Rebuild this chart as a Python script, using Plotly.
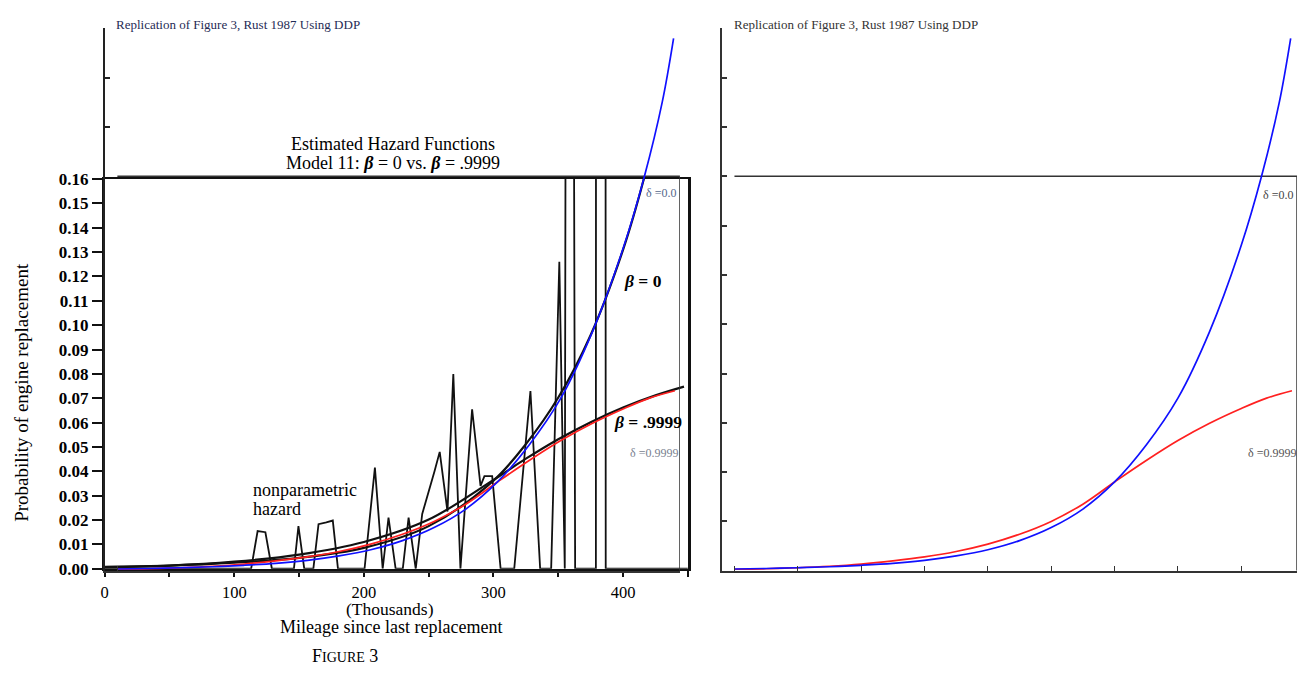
import plotly.graph_objects as go

W, H = 1301, 674

# ---------------- data: scanned Rust (1987) Figure 3 ----------------
scan_x_ticks = [0, 50, 100, 150, 200, 250, 300, 350, 400, 450]
scan_x_ticktext = ["0", "", "100", "", "200", "", "300", "", "400", ""]
scan_y_ticks = [0.00, 0.01, 0.02, 0.03, 0.04, 0.05, 0.06, 0.07, 0.08,
                0.09, 0.10, 0.11, 0.12, 0.13, 0.14, 0.15, 0.16]
scan_y_ticktext = ["0.00", "0.01", "0.02", "0.03", "0.04", "0.05", "0.06", "0.07", "0.08",
                   "0.09", "0.10", "0.11", "0.12", "0.13", "0.14", "0.15", "0.16"]

nonpar_mileage = [0, 113, 118, 124, 129, 146, 149.5, 154, 161, 165, 171, 176, 180,
                  200.5, 208.5, 214.5, 219, 224.5, 230, 234.5, 240, 245, 254.5, 258.5,
                  264.5, 269, 274.5, 283.5, 290, 293, 299, 305.5, 316, 328.5, 336,
                  344.5, 350.8, 355, 357, 360, 363, 379, 379.4, 386, 386.6, 450]
nonpar_hazard = [0, 0, 0.0155, 0.015, 0, 0, 0.0175, 0, 0, 0.0183, 0.019, 0.0198, 0,
                 0, 0.0415, 0, 0.021, 0, 0, 0.021, 0, 0.0225, 0.040, 0.048,
                 0.0235, 0.080, 0, 0.0655, 0.034, 0.038, 0.038, 0, 0, 0.073, 0,
                 0, 0.126, 0, 0.6, 0.6, 0, 0, 1.0, 1.0, 0, 0]

beta0_mileage = [0, 50, 100, 150, 200, 250, 300, 325, 350, 375, 400, 416, 425]
beta0_scan = [0.0008, 0.0013, 0.0025, 0.0045, 0.0086, 0.0175, 0.0362, 0.0512, 0.0703,
              0.096, 0.131, 0.160, 0.180]
beta9999_mileage = [0, 50, 100, 150, 200, 250, 300, 325, 350, 375, 400, 425, 447]
beta9999_scan = [0.0007, 0.0013, 0.0029, 0.0058, 0.0110, 0.0202, 0.0365, 0.0452,
                 0.0532, 0.0602, 0.0662, 0.0712, 0.0748]

# ---------------- data: DDP replication ----------------
ddp_x_max = 444
hazard_cap = 0.16
ddp_y_ticks = [0.02, 0.04, 0.06, 0.08, 0.10, 0.12, 0.14, 0.16, 0.18, 0.20, 0.22]
ddp_x_ticks = [0, 50, 100, 150, 200, 250, 300, 350, 400]

delta0_x = [0, 25, 50, 75, 100, 125, 150, 175, 200, 225, 250, 275, 300, 325, 350,
            375, 400, 416, 430, 439]
delta0_p = [0.0007, 0.0009, 0.0012, 0.0016, 0.0022, 0.0030, 0.0042, 0.0060, 0.0085,
            0.0122, 0.0175, 0.025, 0.036, 0.051, 0.070, 0.097, 0.132, 0.160, 0.190, 0.216]
delta9999_x = [0, 25, 50, 75, 100, 125, 150, 175, 200, 225, 250, 275, 300, 325, 350,
               375, 400, 420, 440]
delta9999_p = [0.0006, 0.0008, 0.0012, 0.0018, 0.0027, 0.0040, 0.0056, 0.0078, 0.0108,
               0.0148, 0.0200, 0.0270, 0.0360, 0.0447, 0.0528, 0.0598, 0.0658, 0.0700,
               0.0730]

SERIF = "Liberation Serif, Times New Roman, serif"
BLUE = "#1010ff"
RED = "#ff2020"


def px(x):
    return x / W


def py(y):
    return 1 - y / H


fig = go.Figure()

# scanned figure curves
fig.add_trace(go.Scatter(x=nonpar_mileage, y=nonpar_hazard, mode="lines",
                         line=dict(color="#111", width=1.8), xaxis="x", yaxis="y"))
fig.add_trace(go.Scatter(x=beta0_mileage, y=beta0_scan, mode="lines", line_shape="spline",
                         line=dict(color="#111", width=2.2), xaxis="x", yaxis="y"))
fig.add_trace(go.Scatter(x=beta9999_mileage, y=beta9999_scan, mode="lines", line_shape="spline",
                         line=dict(color="#111", width=2.2), xaxis="x", yaxis="y"))

# DDP overlay (left) and DDP plot (right)
for xa, ya in (("x2", "y2"), ("x3", "y3")):
    fig.add_trace(go.Scatter(x=[0, ddp_x_max, ddp_x_max], y=[hazard_cap, hazard_cap, 0],
                             mode="lines", line=dict(color="#333", width=1.5),
                             xaxis=xa, yaxis=ya))
    fig.add_trace(go.Scatter(x=delta9999_x, y=delta9999_p, mode="lines", line_shape="spline",
                             line=dict(color=RED, width=1.7), xaxis=xa, yaxis=ya))
    fig.add_trace(go.Scatter(x=delta0_x, y=delta0_p, mode="lines", line_shape="spline",
                             line=dict(color=BLUE, width=1.7), xaxis=xa, yaxis=ya))

common_hidden = dict(showgrid=False, zeroline=False)

fig.update_layout(
    width=W, height=H, margin=dict(l=0, r=0, t=0, b=0),
    paper_bgcolor="white", plot_bgcolor="rgba(0,0,0,0)", showlegend=False,
    xaxis=dict(domain=[px(101), px(686)], range=[0, 450], anchor="y", **common_hidden,
               showline=True, linecolor="#111", linewidth=2, mirror=True,
               ticks="outside", ticklen=6, tickwidth=1.5, tickcolor="#111",
               ticklabelstandoff=1,
               tickvals=scan_x_ticks, ticktext=scan_x_ticktext,
               tickfont=dict(family=SERIF, size=16.5, color="#000")),
    yaxis=dict(domain=[py(576), py(175)], range=[0, 0.16], anchor="x", **common_hidden,
               showline=True, linecolor="#111", linewidth=2.5, mirror=True,
               ticks="outside", ticklen=10, tickwidth=1.5, tickcolor="#111",
               tickvals=scan_y_ticks, ticktext=scan_y_ticktext,
               tickfont=dict(family=SERIF, size=17, color="#000", weight="bold")),
    xaxis2=dict(domain=[px(101), px(678)], range=[-10, ddp_x_max], anchor="y2", **common_hidden,
                showline=True, linecolor="#333", linewidth=1.5,
                ticks="inside", ticklen=5, tickcolor="#333", tickvals=[0],
                showticklabels=False),
    yaxis2=dict(domain=[py(578), py(20)], range=[0, 0.22], anchor="x2", **common_hidden,
                showline=True, linecolor="#222", linewidth=2,
                ticks="inside", ticklen=5, tickwidth=1.5, tickcolor="#222",
                tickvals=[0.18, 0.20, 0.22], showticklabels=False),
    xaxis3=dict(domain=[px(720), px(1297)], range=[-10, ddp_x_max], anchor="y3", **common_hidden,
                showline=True, linecolor="#333", linewidth=2,
                ticks="inside", ticklen=5, tickwidth=1.2, tickcolor="#333",
                tickvals=ddp_x_ticks, showticklabels=False),
    yaxis3=dict(domain=[py(578), py(20)], range=[0, 0.22], anchor="x3", **common_hidden,
                showline=True, linecolor="#333", linewidth=2,
                ticks="inside", ticklen=5, tickwidth=1.5, tickcolor="#333",
                tickvals=ddp_y_ticks, showticklabels=False),
)


def note(text, x, y, size=18, color="#000", xanchor="center", angle=0, family=SERIF):
    fig.add_annotation(text=text, x=px(x), y=py(y), xref="paper", yref="paper",
                       xanchor=xanchor, yanchor="middle", showarrow=False, textangle=angle,
                       borderpad=0, font=dict(family=family, size=size, color=color))


note("Replication of Figure 3, Rust 1987 Using DDP", 111, 16, size=13, color="#1f2b55", xanchor="left")
note("Replication of Figure 3, Rust 1987 Using DDP", 731, 16, size=13, color="#333", xanchor="left")

note("Estimated Hazard Functions", 390, 139)
note("Model 11: <b><i>β</i></b> = 0 vs. <b><i>β</i></b> = .9999", 390, 158)
note("nonparametric", 249, 495, xanchor="left")
note("hazard", 249, 514, xanchor="left")
note("<b><i>β</i> = 0</b>", 641, 280, size=17.5)
note("<b><i>β</i> = .9999</b>", 646, 425, size=17.5)
note("(Thousands)", 387, 617, size=17.5)
note("Mileage since last replacement", 388, 636)
note("F<span style='font-size:14px'>IGURE</span> 3", 342, 666, size=18)
note("Probability of engine replacement", 18, 394, size=19, angle=-90)

note("δ =0.0", 659, 189, size=12, color="#56688c")
note("δ =0.9999", 652, 457, size=12, color="#7a7f90")
note("δ =0.0", 1278, 191, size=12, color="#444")
note("δ =0.9999", 1272, 457, size=12, color="#555")

fig.write_html("out.html",
               config={"displayModeBar": False},
               post_script="document.body.style.margin='0px';"
                           "document.body.style.overflow='hidden';")
